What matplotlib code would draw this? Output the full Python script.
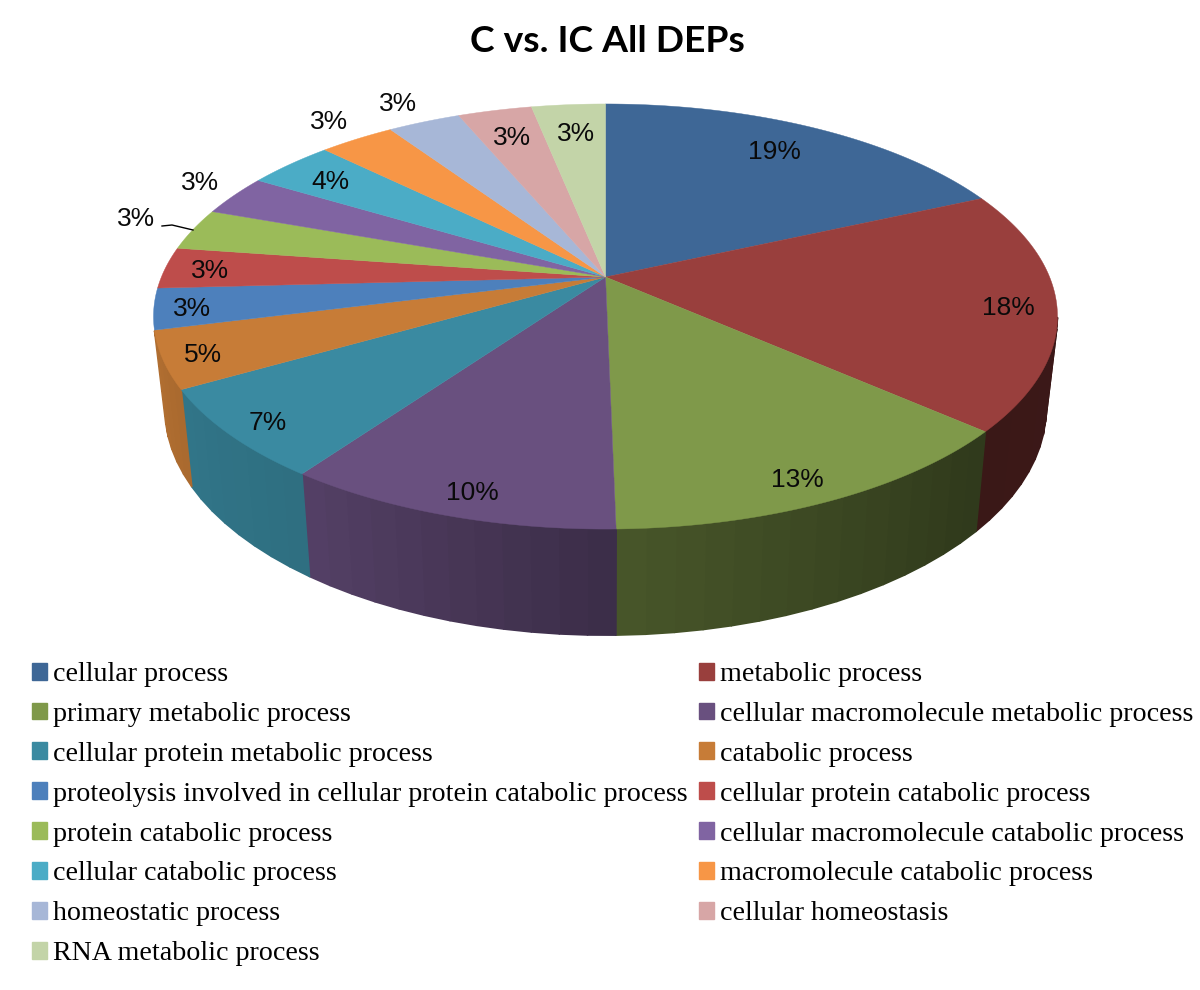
import matplotlib
matplotlib.use('Agg')
import matplotlib.pyplot as plt
from matplotlib.patches import Patch
from matplotlib.colors import to_rgb
import numpy as np

title = 'C vs. IC All DEPs'
categories = ['cellular process', 'metabolic process', 'primary metabolic process',
  'cellular macromolecule metabolic process', 'cellular protein metabolic process',
  'catabolic process', 'proteolysis involved in cellular protein catabolic process',
  'cellular protein catabolic process', 'protein catabolic process',
  'cellular macromolecule catabolic process', 'cellular catabolic process',
  'macromolecule catabolic process', 'homeostatic process', 'cellular homeostasis',
  'RNA metabolic process']
# shares as measured on the drawn slices
shares = [18.25, 18.25, 13.19, 10.16, 6.85, 4.33, 3.12, 3.15, 3.2, 3.12, 3.72, 3.22, 3.11, 3.17, 3.16]
# printed labels
percents = ['19%', '18%', '13%', '10%', '7%', '5%', '3%', '3%', '3%', '3%', '4%', '3%', '3%', '3%', '3%']
colors = ['#3E6796', '#993F3D', '#7F994A', '#69507F', '#3A8AA1', '#C77C37', '#4D80BC', '#BE4D4B',
  '#9BBB59', '#8064A2', '#4BACC6', '#F79646', '#A7B7D7', '#D7A6A6', '#C3D4A8']

# label centres, pixels
labelX = [774, 1008, 797, 472, 268, 203, 192, 210, 136, 200, 330, 329, 398, 512, 576]
labelY = [152, 308, 480, 493, 423, 355, 309, 271, 219, 183, 182, 122, 104, 138, 134]

# perspective of the disc
CX, CY = 605.5, 277
A, B, K = 444.1, 205.2, 0.1859


def rim(deg):
  t = np.radians(deg)
  u, v = np.sin(t), np.cos(t)
  d = 1 + K * v
  return CX + A * u / d, CY - B * v / d


def under(x, y):
  return CX + (x - CX) * 0.975, y + 97 + 0.066 * (y - 391)


def wallShade(deg):
  return np.interp(deg, [100, 135, 180, 215, 240, 260], [.39, .38, .57, .8, .85, .9])


fig = plt.figure(figsize=(12, 9.9), dpi=100)
ax = fig.add_axes([0, 0, 1, 1])
ax.set_xlim(0, 1200)
ax.set_ylim(990, 0)
ax.axis('off')

edges = np.concatenate([[0], np.cumsum(shares)]) / np.sum(shares) * 360

# side wall first, only the front of the disc
for i in range(len(shares)):
  lo, hi = max(edges[i], 101), min(edges[i + 1], 255.5)
  if hi <= lo:
    continue
  steps = np.linspace(lo, hi, max(2, int((hi - lo) / 3) + 1))
  for a0, a1 in zip(steps[:-1], steps[1:]):
    x0, y0 = rim(a0)
    x1, y1 = rim(a1)
    x2, y2 = under(x1, y1)
    x3, y3 = under(x0, y0)
    c = np.array(to_rgb(colors[i])) * wallShade((a0 + a1) / 2)
    ax.fill([x0, x1, x2, x3], [y0, y1, y2, y3], color=c, lw=1.2, joinstyle='round')

# top of the disc
for i in range(len(shares)):
  xs, ys = rim(np.linspace(edges[i], edges[i + 1], 80))
  ax.fill(np.r_[CX, xs], np.r_[CY, ys], color=colors[i], lw=0.3)

for i in range(len(percents)):
  ax.text(labelX[i], labelY[i], percents[i], family='Liberation Sans', fontsize=19,
    color='#0a0a0a', ha='center', va='center')

# leader of the green 3%
ax.plot([162, 172, 193], [226, 225, 230], color='black', lw=1)

ax.text(607, 41, title, family='Lato', fontweight='bold', fontsize=26.8, ha='center', va='center')

# legend fills by column, so put the rows in that order
order = list(range(0, 15, 2)) + list(range(1, 15, 2))
handles = [Patch(color=colors[i], label=categories[i]) for i in order]
ax.legend(handles=handles, ncols=2, loc='upper left', bbox_to_anchor=(32, 662),
  bbox_transform=ax.transData, frameon=False, borderpad=0, borderaxespad=0,
  prop={'family': 'Liberation Serif', 'size': 20.2}, handlelength=0.55, handleheight=0.55,
  handletextpad=0.2, labelspacing=0.531, columnspacing=0.4)

fig.savefig('out.png', dpi=100)
